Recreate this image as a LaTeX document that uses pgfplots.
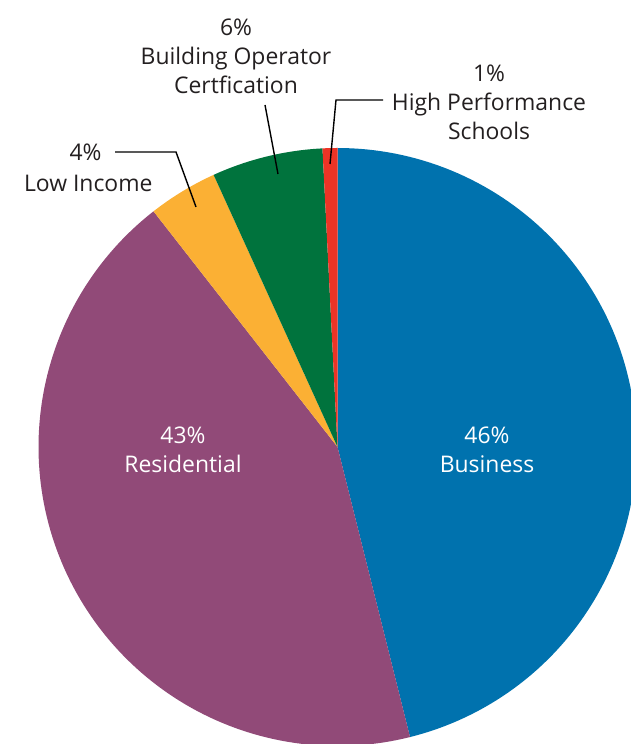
\documentclass[border=0pt]{standalone}
\usepackage{pgfplots}
\pgfplotsset{compat=1.18}
\usepackage{fontspec}
\setmainfont{Open Sans}
\definecolor{cBus}{RGB}{0,114,174}
\definecolor{cRes}{RGB}{145,74,120}
\definecolor{cLow}{RGB}{251,176,52}
\definecolor{cBoc}{RGB}{0,115,61}
\definecolor{cHps}{RGB}{236,52,38}
\definecolor{txt}{RGB}{35,31,32}
\def\cx{337.5}\def\cy{297}\def\rr{299}
\gdef\cum{90}
\newcommand\pieslice[2]{%
  \pgfmathsetmacro\sa{\cum}%
  \pgfmathsetmacro\sb{\cum-#1*3.6}%
  \xdef\cum{\sb}%
  \edef\tmp{\noexpand\addplot[fill=#2, draw=none, domain=\sb:\sa, samples=120, variable=\noexpand\t]
    ({\cx+\rr*cos(\noexpand\t)},{\cy+\rr*sin(\noexpand\t)}) -- (axis cs:\cx,\cy) -- cycle;}%
  \tmp}
\begin{document}
\begin{tikzpicture}
\begin{axis}[hide axis, scale only axis, width=631bp, height=744bp,
  xmin=0, xmax=631, ymin=0, ymax=744, clip=true]
\path (axis cs:0,0) rectangle (axis cs:631,744);
% values in percent, clockwise from top
\pieslice{46.1}{cBus}
\pieslice{43.35}{cRes}
\pieslice{3.75}{cLow}
\pieslice{6.0}{cBoc}
\pieslice{0.8}{cHps}
\begin{scope}[font=\fontsize{23}{29}\selectfont]
\node[white, align=center] at (axis cs:487,294) {46\%\\Business};
\node[white, align=center] at (axis cs:183,294) {43\%\\Residential};
\node[txt, align=center] at (axis cs:489,642) {1\%\\High Performance\\Schools};
\node[txt, align=center] at (axis cs:236,688) {6\%\\Building Operator\\Certfication};
\node[txt, anchor=east] at (axis cs:105,592) {4\%};
\node[txt, anchor=east] at (axis cs:156,561) {Low Income};
\end{scope}
\draw[black, line width=1.4bp] (axis cs:383,644) -- (axis cs:336,644) -- (axis cs:330,580);
\draw[black, line width=1.4bp] (axis cs:265,639) -- (axis cs:278,570);
\draw[black, line width=1.4bp] (axis cs:115,592) -- (axis cs:176,592) -- (axis cs:196,537);
\end{axis}
\end{tikzpicture}
\end{document}
